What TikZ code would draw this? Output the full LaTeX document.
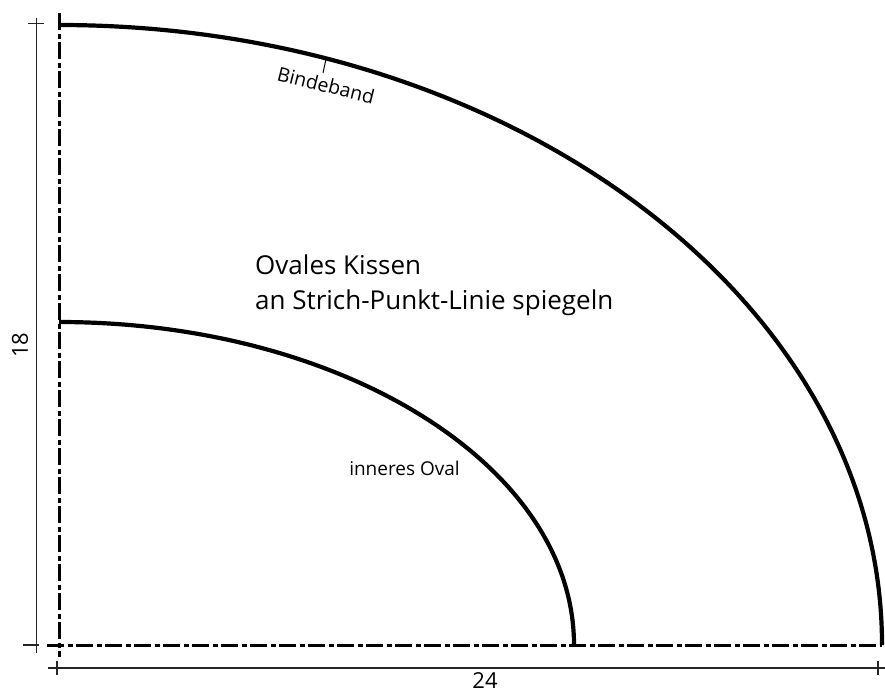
\documentclass[tikz,border=0pt]{standalone}
\usepackage{fontspec}
\setmainfont{Open Sans}
\tikzset{
  x=1pt,y=-1pt,
  outline/.style={line width=4.2pt,line cap=butt},
  axisline/.style={line width=3pt,dash pattern=on 17pt off 3.5pt on 5pt off 3.5pt},
  dimline/.style={line width=1.1pt,black!85},
  lbl/.style={inner sep=0pt,text=black,align=left},
}
\begin{document}
\begin{tikzpicture}
\useasboundingbox (0,0) rectangle (885,691);
\coordinate (O) at (59,645);
\coordinate (OT) at (59,25);
\coordinate (OR) at (882,645);
\coordinate (IT) at (59,322);
\coordinate (IR) at (574,645);
% axes
\coordinate (vtop) at (59,13);
\coordinate (vbot) at (59,657);
\coordinate (hl) at (47,645);
\coordinate (hr) at (882,645);
\draw[axisline] (vtop) -- (vbot);
\draw[axisline] (hl) -- (hr);
% ovals
\draw[outline] (OT) arc[start angle=90,end angle=0,x radius=823,y radius=-620];
\draw[outline] (IT) arc[start angle=90,end angle=0,x radius=515,y radius=-323];
% dimensions
\coordinate (d1a) at (36.5,18);\coordinate (d1b) at (36.5,653);
\coordinate (t1a) at (28,23.5);\coordinate (t1b) at (44,23.5);
\coordinate (t2a) at (23,645);\coordinate (t2b) at (39,645);
\coordinate (d2a) at (48,668);\coordinate (d2b) at (885,668);
\coordinate (t3a) at (57,661);\coordinate (t3b) at (57,675);
\coordinate (t4a) at (878,661);\coordinate (t4b) at (878,675);
\draw[dimline] (d1a) -- (d1b);
\draw[dimline] (t1a) -- (t1b);
\draw[dimline] (t2a) -- (t2b);
\draw[dimline] (d2a) -- (d2b);
\draw[dimline] (t3a) -- (t3b);
\draw[dimline] (t4a) -- (t4b);
% labels
\node[lbl,rotate=90,font=\fontsize{22}{24}\selectfont] (h18) at (20,345) {18};
\node[lbl,font=\fontsize{22}{24}\selectfont] (w24) at (485,681) {24};
\node[lbl,anchor=west,font=\fontsize{26}{35}\selectfont] (title) at (255,285.5) {Ovales Kissen\\an Strich-Punkt-Linie spiegeln};
\node[lbl,font=\fontsize{19}{20}\selectfont] (inner) at (404.5,468) {inneres Oval};
\node[lbl,rotate=-14,font=\fontsize{19.5}{20}\selectfont] (bind) at (326,85) {Bindeband};
\coordinate (bt) at (326,59);
\coordinate (bb) at (323,73);
\draw[line width=1pt] (bt) -- (bb);
\end{tikzpicture}
\end{document}
